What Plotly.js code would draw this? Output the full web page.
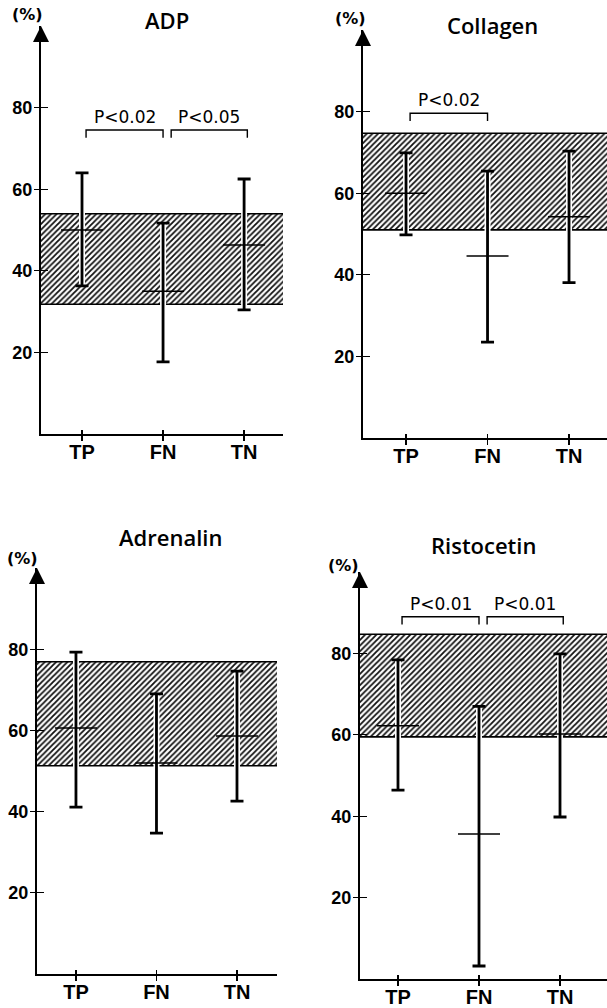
<!DOCTYPE html>
<html>
<head>
<meta charset="utf-8">
<script src="https://cdn.plot.ly/plotly-3.0.1.min.js"></script>
<style>
  html, body { margin: 0; padding: 0; background: #fff; }
  #chart { width: 607px; height: 1008px; }
</style>
</head>
<body>
<div id="chart"></div>
<script>
// ---------------- data ----------------
const categories = ['TP', 'FN', 'TN'];
const yTickValues = [20, 40, 60, 80];
const panelTitles = ['ADP', 'Collagen', 'Adrenalin', 'Ristocetin'];

const adpMean  = [50.0, 35.0, 46.3];
const adpUpper = [64.0, 51.7, 62.5];
const adpLower = [36.3, 17.7, 30.4];

const collagenMean  = [60.0, 44.6, 54.2];
const collagenUpper = [69.9, 65.4, 70.3];
const collagenLower = [49.8, 23.5, 38.1];

const adrenalinMean  = [60.6, 52.0, 58.6];
const adrenalinUpper = [79.3, 69.0, 74.6];
const adrenalinLower = [41.1, 34.7, 42.6];

const ristocetinMean  = [62.2, 35.6, 60.2];
const ristocetinUpper = [78.4, 67.0, 79.9];
const ristocetinLower = [46.4, 3.2, 39.8];

// normal range (hatched band), per panel
const normalLow  = [31.8, 51.0, 51.3, 59.5];
const normalHigh = [54.0, 74.7, 76.9, 84.7];

// significance brackets
const adpPairs = [['TP', 'FN'], ['FN', 'TN']];
const adpPLabels = ['P<0.02', 'P<0.05'];
const adpPLevel = 74.5;
const collagenPairs = [['TP', 'FN']];
const collagenPLabels = ['P<0.02'];
const collagenPLevel = 79.6;
const adrenalinPairs = [];
const adrenalinPLabels = [];
const adrenalinPLevel = 0;
const ristocetinPairs = [['TP', 'FN'], ['FN', 'TN']];
const ristocetinPLabels = ['P<0.01', 'P<0.01'];
const ristocetinPLevel = 89.0;

// ---------------- layout geometry (pixels) ----------------
const W = 607, H = 1008;
const geom = [
  { xpx: [41, 283],  y0: 434, y100: 26,  xr: [-0.506, 2.48], title: [167, 20],  pct: [27, 15]  },
  { xpx: [363, 607], y0: 438, y100: 30,  xr: [-0.528, 2.466], title: [492, 25], pct: [350, 18] },
  { xpx: [37, 277],  y0: 974, y100: 568, xr: [-0.484, 2.497], title: [170, 537], pct: [22, 558] },
  { xpx: [360, 607], y0: 979, y100: 572, xr: [-0.469, 2.58], title: [483, 545], pct: [343, 565] }
];

const panelData = [
  { mean: adpMean, upper: adpUpper, lower: adpLower, pairs: adpPairs, labels: adpPLabels, level: adpPLevel },
  { mean: collagenMean, upper: collagenUpper, lower: collagenLower, pairs: collagenPairs, labels: collagenPLabels, level: collagenPLevel },
  { mean: adrenalinMean, upper: adrenalinUpper, lower: adrenalinLower, pairs: adrenalinPairs, labels: adrenalinPLabels, level: adrenalinPLevel },
  { mean: ristocetinMean, upper: ristocetinUpper, lower: ristocetinLower, pairs: ristocetinPairs, labels: ristocetinPLabels, level: ristocetinPLevel }
];

const narrow = '"Liberation Sans Narrow", "Liberation Sans", Arial, sans-serif';
const tickFont = { family: narrow, size: 18, color: '#000', weight: 'bold' };
const xTickFont = { family: narrow, size: 20, color: '#000', weight: 'bold' };
const titleFont = { family: '"Open Sans", "DejaVu Sans", sans-serif', size: 22, color: '#000', weight: 600 };
const pFont = { family: '"DejaVu Sans", sans-serif', size: 17, color: '#000' };
const pctFont = { family: '"DejaVu Sans", sans-serif', size: 16, color: '#000', weight: 'bold' };

const traces = [];
const layout = {
  width: W, height: H,
  margin: { l: 0, r: 0, t: 0, b: 0 },
  paper_bgcolor: '#fff', plot_bgcolor: 'rgba(0,0,0,0)',
  showlegend: false,
  hovermode: false,
  annotations: []
};

const xIndex = categories.map((c, i) => i);
const catIdx = c => categories.indexOf(c);

geom.forEach((g, p) => {
  const k = p + 1, ko = p + 5;
  const xa = 'x' + k, ya = 'y' + k, xo = 'x' + ko, yo = 'y' + ko;
  const d = panelData[p];
  const xdom = [g.xpx[0] / W, g.xpx[1] / W];
  const ydom = [1 - g.y0 / H, 1 - g.y100 / H];

  layout['xaxis' + k] = {
    domain: xdom, range: g.xr, anchor: ya,
    tickvals: xIndex, ticktext: categories,
    ticks: 'outside', ticklen: 5, tickwidth: 1.3, tickcolor: '#000',
    ticklabelstandoff: -6,
    showline: true, linecolor: '#000', linewidth: 2,
    showgrid: false, zeroline: false, tickfont: xTickFont, fixedrange: true
  };
  layout['yaxis' + k] = {
    domain: ydom, range: [0, 100], anchor: xa,
    tickvals: yTickValues,
    ticks: 'outside', ticklen: 5, tickwidth: 1.3, tickcolor: '#000',
    ticklabelstandoff: -2,
    showline: true, linecolor: '#000', linewidth: 2,
    showgrid: false, zeroline: false, tickfont: tickFont, fixedrange: true
  };
  // overlay axes: inner half of the crossing tick marks
  layout['xaxis' + ko] = {
    overlaying: xa, range: g.xr, anchor: yo,
    tickvals: xIndex, ticks: 'inside', ticklen: 4, tickwidth: 1.3, tickcolor: '#000',
    showticklabels: false, showline: false, showgrid: false, zeroline: false, fixedrange: true
  };
  layout['yaxis' + ko] = {
    overlaying: ya, range: [0, 100], anchor: xo,
    tickvals: yTickValues, ticks: 'inside', ticklen: 7, tickwidth: 1.3, tickcolor: '#000',
    showticklabels: false, showline: false, showgrid: false, zeroline: false, fixedrange: true
  };
  traces.push({ x: [null], y: [null], xaxis: xo, yaxis: yo, mode: 'markers', hoverinfo: 'skip' });

  // hatched normal band
  const lo = normalLow[p], hi = normalHigh[p];
  traces.push({
    x: [g.xr[0], g.xr[1], g.xr[1], g.xr[0], g.xr[0]],
    y: [lo, lo, hi, hi, lo],
    xaxis: xa, yaxis: ya, mode: 'lines', fill: 'toself',
    line: { width: 0, color: 'rgba(0,0,0,0)' },
    fillcolor: '#ffffff',
    fillpattern: { shape: '/', size: 4, solidity: 0.45, fgcolor: '#111', bgcolor: '#ffffff' },
    hoverinfo: 'skip'
  });
  [lo, hi].forEach(v => traces.push({
    x: [g.xr[0], g.xr[1]], y: [v, v], xaxis: xa, yaxis: ya, mode: 'lines',
    line: { color: '#000', width: 1.6 }, hoverinfo: 'skip'
  }));

  const plus = d.upper.map((u, i) => u - d.mean[i]);
  const minus = d.lower.map((l, i) => d.mean[i] - l);
  // white halo under the error bars
  traces.push({
    x: xIndex, y: d.mean, xaxis: xa, yaxis: ya, mode: 'markers',
    marker: { size: 1, color: 'rgba(0,0,0,0)' },
    error_y: { type: 'data', symmetric: false, array: plus, arrayminus: minus, color: '#fff', thickness: 6, width: 0 },
    hoverinfo: 'skip'
  });
  // error bars with mean marks
  traces.push({
    x: xIndex, y: d.mean, xaxis: xa, yaxis: ya, mode: 'markers',
    marker: { symbol: 'line-ew', size: 30, color: '#000', line: { color: '#000', width: 1.5 } },
    error_y: { type: 'data', symmetric: false, array: plus, arrayminus: minus, color: '#000', thickness: 2.8, width: 6.5 },
    hoverinfo: 'skip'
  });

  // significance brackets
  d.pairs.forEach((pr, j) => {
    const i0 = catIdx(pr[0]), i1 = catIdx(pr[1]);
    const xs = i0 + (i0 === 1 ? 0.1 : 0.05);
    const xe = i1 + (i1 === 2 ? 0.04 : 0.0);
    const lv = d.level;
    traces.push({
      x: [xs, xs, xe, xe], y: [lv - 1.9, lv, lv, lv - 1.9],
      xaxis: xa, yaxis: ya, mode: 'lines',
      line: { color: '#000', width: 1.4 }, hoverinfo: 'skip'
    });
    layout.annotations.push({
      xref: xa, yref: ya, x: (xs + xe) / 2, y: lv, yanchor: 'bottom', yshift: 1,
      text: d.labels[j].replace(/</g, '&lt;'), showarrow: false, font: pFont
    });
  });

  // arrow on top of the y axis
  layout.annotations.push({
    xref: xa, yref: ya, x: g.xr[0], y: 100, ax: 0, ay: 16,
    text: '', showarrow: true, arrowhead: 2, arrowsize: 1.6, arrowwidth: 2, arrowcolor: '#000', standoff: 0
  });
  // title
  layout.annotations.push({
    xref: 'paper', yref: 'paper', x: g.title[0] / W, y: 1 - g.title[1] / H,
    xanchor: 'center', yanchor: 'middle', text: panelTitles[p], showarrow: false, font: titleFont
  });
  // unit label
  layout.annotations.push({
    xref: 'paper', yref: 'paper', x: g.pct[0] / W, y: 1 - g.pct[1] / H,
    xanchor: 'center', yanchor: 'middle', text: '(%)', showarrow: false, font: pctFont
  });
});

Plotly.newPlot('chart', traces, layout, { staticPlot: true, displayModeBar: false });
</script>
</body>
</html>
